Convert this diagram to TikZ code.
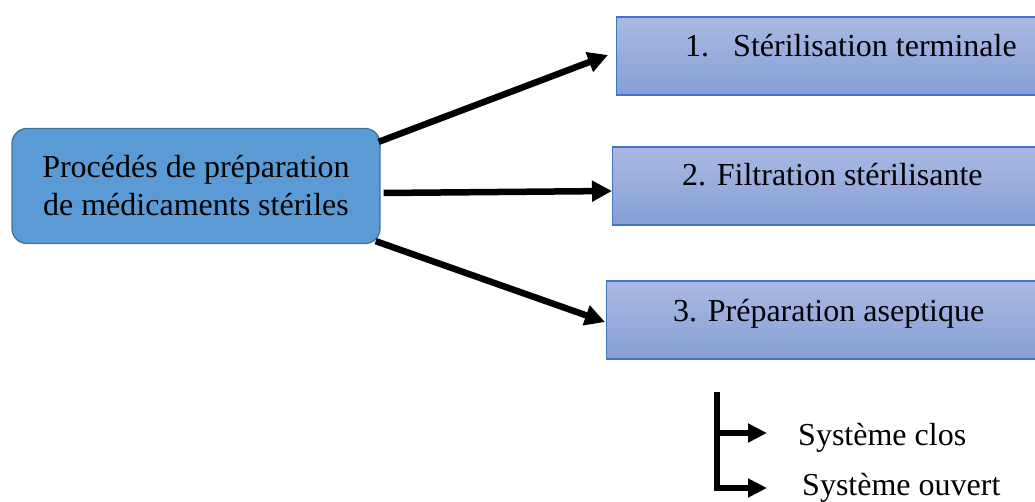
\documentclass[tikz,border=0pt]{standalone}
\usepackage{fontspec}
\setmainfont{Liberation Serif}
\usetikzlibrary{arrows.meta,shapes.misc}
\definecolor{mainfill}{HTML}{5B9BD5}
\definecolor{mainline}{HTML}{41719C}
\definecolor{boxtop}{RGB}{170,185,227}
\definecolor{boxbot}{RGB}{134,158,213}
\definecolor{boxline}{HTML}{4472C4}
\tikzset{
  mainbox/.style={draw=mainline, line width=1.3pt, fill=mainfill, rounded corners=15pt,
    minimum width=368pt, minimum height=115pt, inner sep=0pt, align=center,
    font=\fontsize{32}{38}\selectfont},
  stepbox/.style={draw=boxline, line width=1.3pt, top color=boxtop, bottom color=boxbot,
    minimum height=78pt, inner sep=0pt, anchor=west},
  lbl/.style={anchor=base west, inner sep=0pt, font=\fontsize{32}{38}\selectfont},
  arr/.style={line width=6.5pt, -{Triangle[length=20pt,width=20pt]}},
  brk/.style={line width=5.5pt, -{Triangle[length=19pt,width=18pt]}},
}
\begin{document}
\begin{tikzpicture}[x=1pt,y=-1pt]
\useasboundingbox (0,0) rectangle (1035,502);
\clip (0,0) rectangle (1035,502);
\node[mainbox] (main) at (196,186) {Procédés de préparation\\de médicaments stériles};
\node[stepbox, minimum width=430pt] (b1) at (616,56) {};
\node[stepbox, minimum width=430pt] (b2) at (612,186) {};
\node[stepbox, minimum width=440pt] (b3) at (606,320) {};
\node[lbl] (t1) at (685,57) {1.\hspace{24pt}Stérilisation terminale};
\node[lbl] (t2) at (682,186) {2. Filtration stérilisante};
\node[lbl] (t3) at (673,322) {3. Préparation aseptique};
\draw[arr] ([xshift=-2pt,yshift=-14pt]main.north east) -- ([xshift=-8pt,yshift=1pt]b1.west);
\draw[arr] ([xshift=3pt,yshift=-7pt]main.east) -- ([yshift=-5pt]b2.west);
\draw[arr] ([xshift=-5pt,yshift=3pt]main.south east) -- ([xshift=-1pt,yshift=-2pt]b3.west);
\node[lbl] (s1) at (798,445) {Système clos};
\node[lbl] (s2) at (802,495) {Système ouvert};
\coordinate (btop) at (717,392);
\coordinate (e1) at (767,433);
\coordinate (e2) at (767,488);
\draw[brk] (btop) |- (e2);
\draw[brk] (btop |- e1) -- (e1);
\end{tikzpicture}
\end{document}
